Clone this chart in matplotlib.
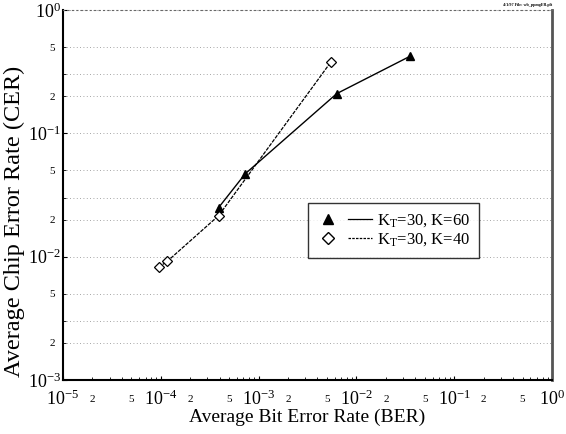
import math
import matplotlib
matplotlib.use('Agg')
import matplotlib.pyplot as plt
from matplotlib.ticker import LogLocator, FuncFormatter
from matplotlib.legend_handler import HandlerTuple
from matplotlib.lines import Line2D

plt.rcParams['font.family'] = ['Liberation Serif', 'DejaVu Serif']
plt.rcParams['mathtext.fontset'] = 'custom'
plt.rcParams['mathtext.rm'] = 'Liberation Serif'
plt.rcParams['mathtext.it'] = 'Liberation Serif:italic'

# K_T=30, K=60 (filled triangles, solid)
ber_60 = [3.9e-4, 7.3e-4, 6.3e-3, 3.5e-2]
cer_60 = [0.025, 0.047, 0.21, 0.42]
# K_T=30, K=40 (open diamonds, dashed)
ber_40 = [9.5e-5, 1.17e-4, 3.9e-4, 5.5e-3]
cer_40 = [0.0082, 0.0092, 0.0215, 0.38]

label_60 = 'K$_\\mathregular{T}$=30, K=60'
label_40 = 'K$_\\mathregular{T}$=30, K=40'

fig = plt.figure(figsize=(5.66, 4.34), dpi=100)
ax = fig.add_axes([63/566, 1-380/434, 489/566, 370/434])

ax.plot(ber_60, cer_60, color='black', lw=1.0, marker='^', ms=6,
        markerfacecolor='black', zorder=3)
ax.plot(ber_40, cer_40, color='black', lw=0.9, ls=(0, (3, 1)), marker='D', ms=5,
        markerfacecolor='white', markeredgewidth=0.9, zorder=3)

ax.set_xscale('log')
ax.set_yscale('log')
ax.set_xlim(1e-5, 1)
ax.set_ylim(1e-3, 1)

def major_fmt(v, pos):
    return r'$\mathregular{10^{%d}}$' % round(math.log10(v))

def minor_fmt(v, pos):
    m = round(v / 10 ** math.floor(math.log10(v) + 1e-9))
    return str(m) if m in (2, 5) else ''

ax.xaxis.set_major_locator(LogLocator(base=10, numticks=10))
ax.xaxis.set_minor_locator(LogLocator(base=10, subs=(2, 3, 4, 5, 6, 7, 8, 9), numticks=10))
ax.yaxis.set_major_locator(LogLocator(base=10, numticks=10))
ax.yaxis.set_minor_locator(LogLocator(base=10, subs=(2, 3, 5), numticks=10))
for axis in (ax.xaxis, ax.yaxis):
    axis.set_major_formatter(FuncFormatter(major_fmt))
    axis.set_minor_formatter(FuncFormatter(minor_fmt))

ax.tick_params(which='major', direction='in', length=3, width=0.8, labelsize=13)
ax.tick_params(which='minor', direction='in', length=2, width=0.6, labelsize=8)
ax.tick_params(axis='x', which='major', pad=7)
ax.tick_params(axis='x', which='minor', pad=11)
ax.tick_params(axis='y', which='major', pad=1.5)
ax.tick_params(axis='y', which='minor', pad=6)

ax.yaxis.grid(True, which='both', ls=(0, (1, 3)), color='#888888', lw=0.6)
ax.set_axisbelow(True)

for s in ('left', 'bottom'):
    ax.spines[s].set_linewidth(1.5)
ax.spines['right'].set_linewidth(2.0)
ax.spines['right'].set_color('#555555')
ax.spines['top'].set_linewidth(0.8)
ax.spines['top'].set_linestyle((0, (1, 3)))
ax.spines['top'].set_color('#666666')

ax.set_xlabel('Average Bit Error Rate (BER)', fontsize=14, labelpad=0)
ax.set_ylabel('Average Chip Error Rate (CER)', fontsize=17.5)
ax.yaxis.set_label_coords(-0.078, 0.43)

h60 = (Line2D([], [], ls='none', marker='^', color='black', ms=7),
       Line2D([], [], color='black', lw=0.9))
h40 = (Line2D([], [], ls='none', marker='D', color='black', ms=6, markerfacecolor='white'),
       Line2D([], [], color='black', lw=0.9, ls=(0, (2, 1))))
leg = ax.legend([h60, h40], [label_60, label_40],
                handler_map={tuple: HandlerTuple(ndivide=None, pad=0.5)},
                loc='upper left', bbox_to_anchor=(0.5, 0.478),
                handlelength=3.3, fontsize=12, frameon=True, fancybox=False,
                edgecolor='black', borderpad=0.55, labelspacing=0.15,
                handletextpad=0.3, borderaxespad=0)
leg.get_frame().set_linewidth(1.0)

fig.text(0.975, 0.993, '4/1/97 File: wb_ppmgER.plt', fontsize=3,
         ha='right', va='top', fontweight='bold')

fig.savefig('out.png', dpi=100)
